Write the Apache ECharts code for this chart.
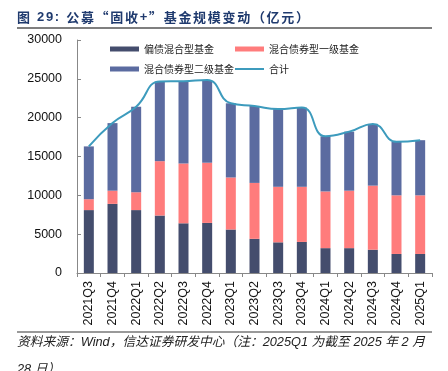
<!DOCTYPE html>
<html>
<head>
<meta charset="utf-8">
<script src="https://cdn.jsdelivr.net/npm/echarts@6/dist/echarts.min.js"></script>
<style>
html,body{margin:0;padding:0;background:#fff;}
#c{width:448px;height:371px;}
</style>
</head>
<body>
<div id="c"></div>
<script>
var categories = ['2021Q3','2021Q4','2022Q1','2022Q2','2022Q3','2022Q4','2023Q1','2023Q2','2023Q3','2023Q4','2024Q1','2024Q2','2024Q3','2024Q4','2025Q1'];
var biasDebt = [8100, 8900, 8100, 7400, 6400, 6450, 5600, 4400, 3950, 4000, 3200, 3200, 3000, 2450, 2450];
var primaryBond = [1400, 1700, 2300, 7000, 7700, 7750, 6700, 7200, 7150, 7100, 7300, 7400, 8250, 7550, 7550];
var secondaryBond = [6800, 8700, 11000, 10250, 10600, 10650, 9550, 9900, 10000, 10200, 7100, 7600, 7950, 6900, 7100];
var totals = [16300, 19300, 21400, 24650, 24700, 24850, 21850, 21500, 21100, 21300, 17600, 18200, 19200, 16900, 17100];
var yTicks = [0, 5000, 10000, 15000, 20000, 25000, 30000];
var titleText = '图 29: 公募“固收+”基金规模变动（亿元）';

var FONT = '"Liberation Sans", Arial, "Noto Sans CJK SC", sans-serif';

// title laid out glyph by glyph with extra letter spacing
var LAT_FONT = 'bold 13px "Liberation Sans", sans-serif';
var CJK_FONT = 'bold 13px "Noto Sans CJK SC", sans-serif';
var mctx = document.createElement('canvas').getContext('2d');
var titleGlyphs = [];
var tx = 17;
for (var i = 0; i < titleText.length; i++) {
  var ch = titleText[i];
  var f = /[0-9A-Za-z:+ ]/.test(ch) ? LAT_FONT : CJK_FONT;
  mctx.font = f;
  var w = mctx.measureText(ch).width;
  if (ch !== ' ') {
    titleGlyphs.push({ type: 'text', x: tx, y: 11, style: { text: ch, font: f, fill: '#1f3a6e' } });
  }
  tx += w + 1.7;
}

var chart = echarts.init(document.getElementById('c'));
var legendBase = function (name, left, top, icon, h) {
  return {
    data: [name], left: left, top: top, padding: 0,
    itemWidth: 29, itemHeight: h || 5, itemGap: 0,
    icon: icon,
    textStyle: { fontSize: 10, color: '#222', fontFamily: '"Noto Sans CJK SC", sans-serif' }
  };
};
chart.setOption({
  animation: false,
  textStyle: { fontFamily: FONT },
  graphic: titleGlyphs.concat([
    { type: 'line', shape: { x1: 17, y1: 28, x2: 432, y2: 28 }, style: { stroke: '#555', lineWidth: 1.5 } },
    { type: 'line', shape: { x1: 17, y1: 332, x2: 432, y2: 332 }, style: { stroke: '#777', lineWidth: 1.5 } },
    { type: 'text', left: 17, top: 336, style: { text: '资料来源：Wind，信达证券研发中心（注：2025Q1 为截至 2025 年 2 月', font: 'italic 12.75px "Liberation Sans", "Noto Sans CJK SC", sans-serif', fill: '#222' } },
    { type: 'text', left: 17, top: 363, style: { text: '28 日）', font: 'italic 12.75px "Liberation Sans", "Noto Sans CJK SC", sans-serif', fill: '#222' } }
  ]),
  legend: [
    legendBase('偏债混合型基金', 110, 44, 'rect'),
    legendBase('混合债券型一级基金', 235, 44, 'rect'),
    legendBase('混合债券型二级基金', 110, 64, 'rect'),
    legendBase('合计', 235, 64, 'rect', 2)
  ],
  grid: { left: 77, right: 16, top: 40, bottom: 98 },
  xAxis: {
    type: 'category', data: categories, boundaryGap: true,
    axisLine: { lineStyle: { color: '#888', width: 1 } },
    axisTick: { show: true, inside: false, length: 4, lineStyle: { color: '#888' } },
    axisLabel: { rotate: 90, interval: 0, fontSize: 12.5, color: '#111', margin: 8, fontFamily: FONT }
  },
  yAxis: {
    type: 'value', min: yTicks[0], max: yTicks[yTicks.length - 1], interval: 5000,
    splitLine: { show: false },
    axisLine: { show: true, lineStyle: { color: '#888', width: 1 } },
    axisTick: { show: true, inside: true, length: 4, lineStyle: { color: '#888' } },
    axisLabel: { fontSize: 12.5, color: '#111', margin: 15, fontFamily: FONT, formatter: function (v) { return String(v); } }
  },
  series: [
    { name: '偏债混合型基金', type: 'bar', stack: 'a', barWidth: 10, data: biasDebt, itemStyle: { color: '#444d6d' } },
    { name: '混合债券型一级基金', type: 'bar', stack: 'a', barWidth: 10, data: primaryBond, itemStyle: { color: '#ff7c7c' } },
    { name: '混合债券型二级基金', type: 'bar', stack: 'a', barWidth: 10, data: secondaryBond, itemStyle: { color: '#5b6ba0' } },
    { name: '合计', type: 'line', data: totals, smooth: true, symbol: 'none', showSymbol: false, lineStyle: { color: '#3d9bbd', width: 2 }, itemStyle: { color: '#3d9bbd' }, z: 5 }
  ]
});
</script>
</body>
</html>
